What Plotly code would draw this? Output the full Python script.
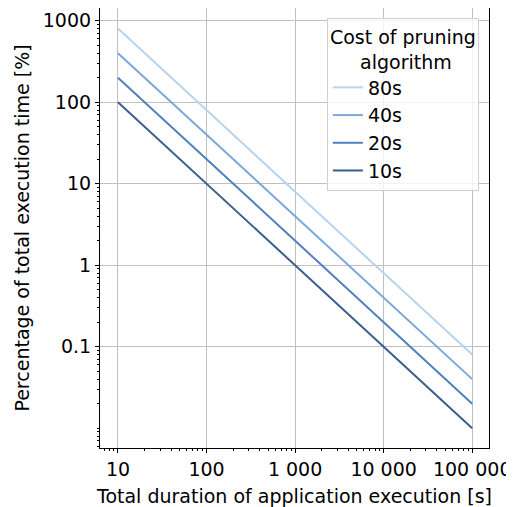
import plotly.graph_objects as go

durations = [10, 100, 1000, 10000, 100000]
series_names = ["80s", "40s", "20s", "10s"]
pct_80 = [800, 80, 8, 0.8, 0.08]
pct_40 = [400, 40, 4, 0.4, 0.04]
pct_20 = [200, 20, 2, 0.2, 0.02]
pct_10 = [100, 10, 1, 0.1, 0.01]
series_values = [pct_80, pct_40, pct_20, pct_10]
colors = ["#b8d3ee", "#7aa8db", "#4f81bd", "#3b5e8c"]

x_tickvals = [10, 100, 1000, 10000, 100000]
x_ticktext = ["10", "100", "1 000", "10 000", "100 000"]
y_tickvals = [0.1, 1, 10, 100, 1000]
y_ticktext = ["0.1", "1", "10", "100", "1000"]

fig = go.Figure()
for name, vals, c in zip(series_names, series_values, colors):
    fig.add_trace(go.Scatter(x=durations, y=vals, mode="lines", name=name,
                             line=dict(color=c, width=2)))

font = dict(family="DejaVu Sans", size=19, color="black")
axis_common = dict(
    type="log", showline=True, linecolor="black", linewidth=1.2, mirror=True,
    showgrid=True, gridcolor="#c0c0c0", gridwidth=1.2,
    ticks="outside", ticklen=4, tickwidth=1, tickcolor="black",
    zeroline=False, tickfont=font, automargin=False,
    minor=dict(ticks="outside", ticklen=2, tickwidth=1, tickcolor="black",
               showgrid=False, dtick="D1"),
)
fig.update_xaxes(**axis_common, range=[0.797, 5.19], tickmode="array",
                 tickvals=x_tickvals, ticktext=x_ticktext,
                 title=dict(text="Total duration of application execution [s]", font=font, standoff=10))
fig.update_yaxes(**axis_common, range=[-2.243, 3.156], tickmode="array",
                 tickvals=y_tickvals, ticktext=y_ticktext,
                 title=dict(text="Percentage of total execution time [%]", font=font, standoff=8))

fig.update_layout(
    width=506, height=499,
    margin=dict(l=92, r=25, t=0, b=59),
    plot_bgcolor="white", paper_bgcolor="white",
    font=font,
    legend=dict(
        title=dict(text="Cost of pruning<br>" + "&nbsp;" * 5 + "algorithm", side="top center", font=font),
        x=0.974, y=0.977, xanchor="right", yanchor="top",
        bgcolor="rgba(255,255,255,0.8)", bordercolor="#d0d0d0", borderwidth=1,
        font=font,
    ),
)
fig.write_html("out.html")
